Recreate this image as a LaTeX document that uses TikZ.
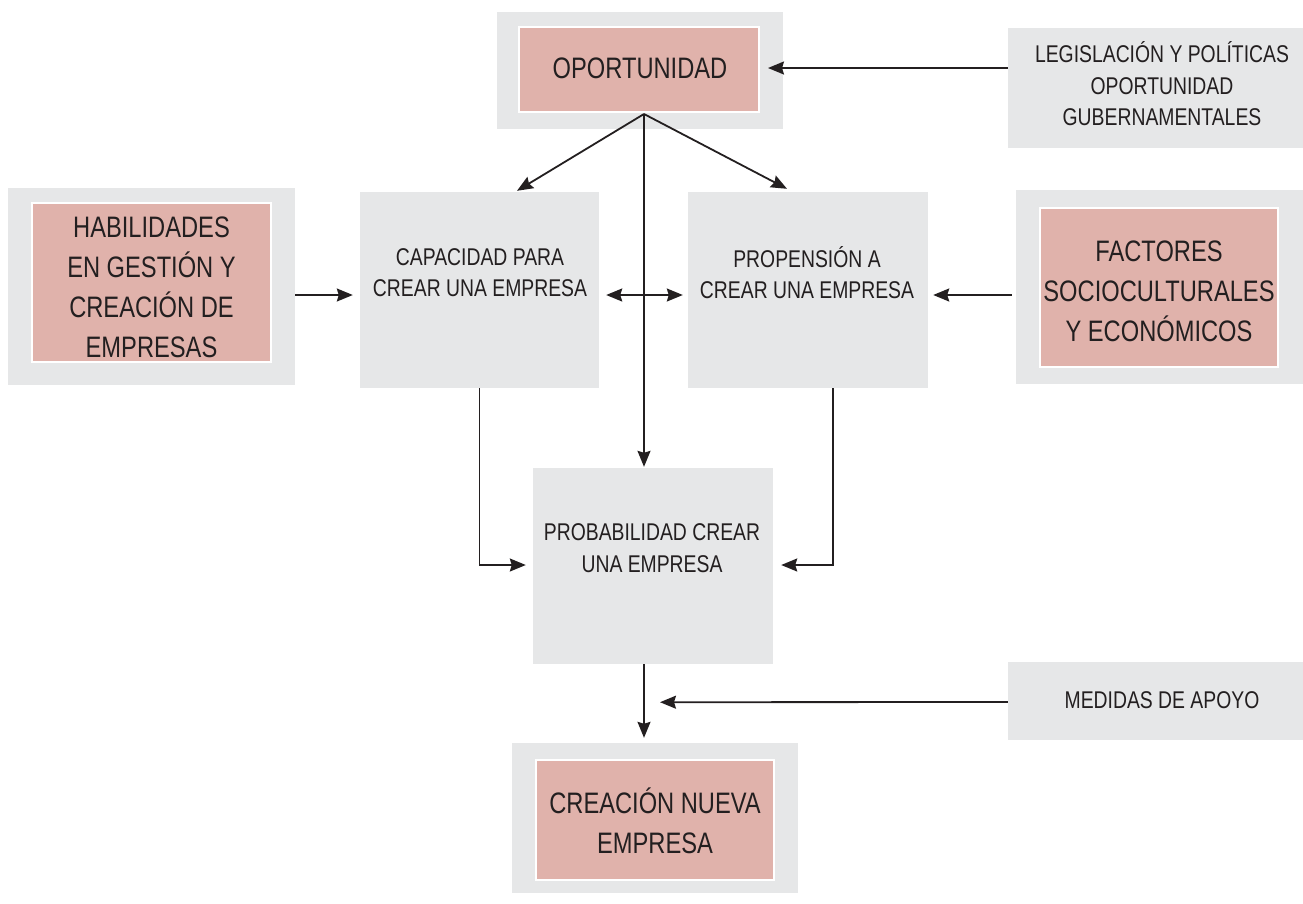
\documentclass[tikz,border=0pt]{standalone}
\usepackage{fontspec}
\setmainfont{Liberation Sans}[FakeStretch=0.8]
\usetikzlibrary{arrows.meta,calc}
\definecolor{boxgray}{HTML}{E6E7E8}
\definecolor{boxpink}{HTML}{E0B2AB}
\definecolor{ink}{HTML}{231F20}
\tikzset{
  outerbox/.style={fill=boxgray, draw=none, inner sep=0pt},
  innerbox/.style={fill=boxpink, draw=white, line width=2pt, inner sep=0pt},
  bigtxt/.style={text=ink, align=center, inner sep=0pt, font=\fontsize{29.6}{40}\selectfont},
  smalltxt/.style={text=ink, align=center, inner sep=0pt, font=\fontsize{24.2}{31.5}\selectfont},
  conn/.style={draw=ink, line width=1.8pt, -{Stealth[length=16pt,width=13pt,inset=2pt]}},
  conn2/.style={draw=ink, line width=1.8pt, {Stealth[length=16pt,width=13pt,inset=2pt]}-{Stealth[length=16pt,width=13pt,inset=2pt]}}
}
\begin{document}
\begin{tikzpicture}[x=1pt,y=-1pt]
\useasboundingbox (0,0) rectangle (1303,903);
% OPORTUNIDAD
\node[outerbox, minimum width=286pt, minimum height=117pt] (opOut) at (640,70.5) {};
\node[innerbox, minimum width=240pt, minimum height=85pt] (opIn) at (639,69.5) {};
\node[bigtxt] (opT) at (640,68) {OPORTUNIDAD};
% LEGISLACION
\node[outerbox, minimum width=295pt, minimum height=120pt] (leg) at (1155.5,88) {};
\node[smalltxt] (legT) at (1162,84) {LEGISLACIÓN Y POLÍTICAS\\OPORTUNIDAD\\GUBERNAMENTALES};
% HABILIDADES
\node[outerbox, minimum width=287pt, minimum height=197pt] (habOut) at (151.5,286.5) {};
\node[innerbox, minimum width=239pt, minimum height=159pt] (habIn) at (151.5,282.5) {};
\node[bigtxt] (habT) at (151.5,287) {HABILIDADES\\EN GESTIÓN Y\\CREACIÓN DE\\EMPRESAS};
% CAPACIDAD
\node[outerbox, minimum width=239pt, minimum height=196pt] (cap) at (479.5,290) {};
\node[smalltxt] (capT) at (480,272.5) {CAPACIDAD PARA\\CREAR UNA EMPRESA};
% PROPENSION
\node[outerbox, minimum width=240pt, minimum height=196pt] (prop) at (808,290) {};
\node[smalltxt] (propT) at (807,272.5) {PROPENSIÓN A\\CREAR UNA EMPRESA};
% FACTORES
\node[outerbox, minimum width=287pt, minimum height=194pt] (facOut) at (1159.5,287) {};
\node[innerbox, minimum width=238pt, minimum height=159pt] (facIn) at (1159,287.5) {};
\node[bigtxt] (facT) at (1159,291) {FACTORES\\SOCIOCULTURALES\\Y ECONÓMICOS};
% PROBABILIDAD
\node[outerbox, minimum width=240pt, minimum height=196pt] (prob) at (653,566) {};
\node[smalltxt] (probT) at (652,548) {PROBABILIDAD CREAR\\UNA EMPRESA};
% MEDIDAS
\node[outerbox, minimum width=295pt, minimum height=78pt] (med) at (1155.5,701) {};
\node[smalltxt] (medT) at (1162,700) {MEDIDAS DE APOYO};
% CREACION
\node[outerbox, minimum width=286pt, minimum height=150pt] (creOut) at (655,818) {};
\node[innerbox, minimum width=238pt, minimum height=120pt] (creIn) at (655,820) {};
\node[bigtxt] (creT) at (655,821) {CREACIÓN NUEVA\\EMPRESA};
% connectors
\coordinate (apex) at ($(opIn.south)+(5,1)$);
\draw[conn] ($(leg.west)+(0,-20)$) -- ($(opIn.east)+(8,-1.5)$);
\draw[conn] (apex) -- ($(cap.north)+(37.5,-1)$);
\draw[conn] (apex) -- ($(prop.north)+(-21,-3)$);
\draw[conn] (apex) -- ($(prob.north)+(-9,-1)$);
\draw[conn2] ($(cap.east)+(7,5)$) -- ($(prop.west)+(-5,5)$);
\draw[conn] ($(habOut.east)+(0,8.5)$) -- ($(cap.west)+(-7,5)$);
\draw[conn] ($(facOut.west)+(-4,8)$) -- ($(prop.east)+(5,5)$);
\draw[conn] (cap.south) |- ($(prob.west)+(-7,-1)$);
\draw[conn] ($(prop.south)+(25,0)$) |- ($(prob.east)+(8,-1)$);
\draw[conn] ($(prob.south)+(-9,0)$) -- ($(creOut.north)+(-11,-5)$);
\draw[conn] ($(med.west)+(0,1)$) -- ($(prob.south)+(7,38)$);
\end{tikzpicture}
\end{document}
